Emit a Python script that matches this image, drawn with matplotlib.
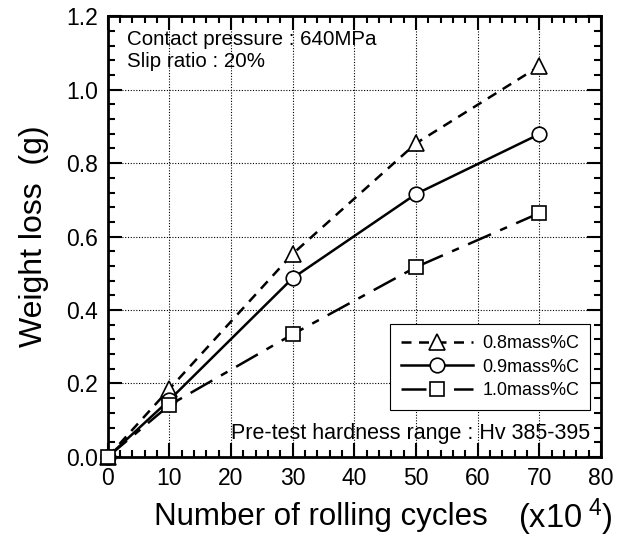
import matplotlib
matplotlib.use("Agg")
import matplotlib.pyplot as plt
from matplotlib.ticker import MultipleLocator

plt.rcParams['font.family'] = ['Liberation Sans', 'DejaVu Sans']
plt.rcParams['mathtext.fontset'] = 'custom'
plt.rcParams['mathtext.rm'] = 'Liberation Sans'
plt.rcParams['mathtext.it'] = 'Liberation Sans:italic'

cycles = [0, 10, 30, 50, 70]
loss_08 = [0.0, 0.185, 0.553, 0.854, 1.064]
loss_09 = [0.0, 0.155, 0.487, 0.716, 0.879]
loss_10 = [0.0, 0.141, 0.334, 0.517, 0.664]
labels = ['0.8mass%C', '0.9mass%C', '1.0mass%C']

fig = plt.figure(figsize=(6.30, 5.42), dpi=100)
ax = fig.add_axes([0.171, 0.157, 0.783, 0.813])

lw = 1.8
ms = 10.5
ax.plot(cycles, loss_08, color='black', lw=lw, dashes=(4, 3), marker='^',
        ms=ms + 1, mfc='white', mec='black', mew=1.2, label=labels[0], zorder=3, clip_on=False)
ax.plot(cycles, loss_09, color='black', lw=lw, ls='-', marker='o',
        ms=ms, mfc='white', mec='black', mew=1.2, label=labels[1], zorder=3, clip_on=False)
ax.plot(cycles, loss_10, color='black', lw=lw, dashes=(10, 4, 3, 4), marker='s',
        ms=ms, mfc='white', mec='black', mew=1.2, label=labels[2], zorder=4, clip_on=False)

ax.set_xlim(0, 80)
ax.set_ylim(0, 1.2)
ax.xaxis.set_major_locator(MultipleLocator(10))
ax.xaxis.set_minor_locator(MultipleLocator(2))
ax.yaxis.set_major_locator(MultipleLocator(0.2))
ax.yaxis.set_minor_locator(MultipleLocator(0.04))
ax.yaxis.set_major_formatter(matplotlib.ticker.FormatStrFormatter('%.1f'))
ax.tick_params(which='both', direction='in', top=True, right=True, width=1.5,
               labelsize=16.5, pad=7)
ax.tick_params(which='major', length=10)
ax.tick_params(which='minor', length=5)
for s in ax.spines.values():
    s.set_linewidth(2)
ax.grid(True, which='major', ls=(0, (1, 1.5)), color='black', lw=0.8)
ax.set_axisbelow(True)

ax.set_ylabel('Weight loss  (g)', fontsize=23, labelpad=12)

fig.text(0.51, 0.046, 'Number of rolling cycles', fontsize=22.5, ha='center', va='center')
fig.text(0.898, 0.046, r'(x10$^{\,\,4}$)', fontsize=23.5, ha='center', va='center')

ax.text(0.04, 0.968, 'Contact pressure : 640MPa\nSlip ratio : 20%', transform=ax.transAxes,
        fontsize=14.8, ha='left', va='top', linespacing=1.15)
ax.text(0.978, 0.052, 'Pre-test hardness range : Hv 385-395', transform=ax.transAxes,
        fontsize=15.5, ha='right', va='center')

leg = ax.legend(loc='lower right', bbox_to_anchor=(0.978, 0.107), borderaxespad=0,
                fontsize=13, handlelength=4, fancybox=False, framealpha=1,
                edgecolor='black', labelspacing=0.35, borderpad=0.6, handletextpad=0.5)
leg.get_frame().set_linewidth(0.8)

fig.savefig('out.png', dpi=100)
